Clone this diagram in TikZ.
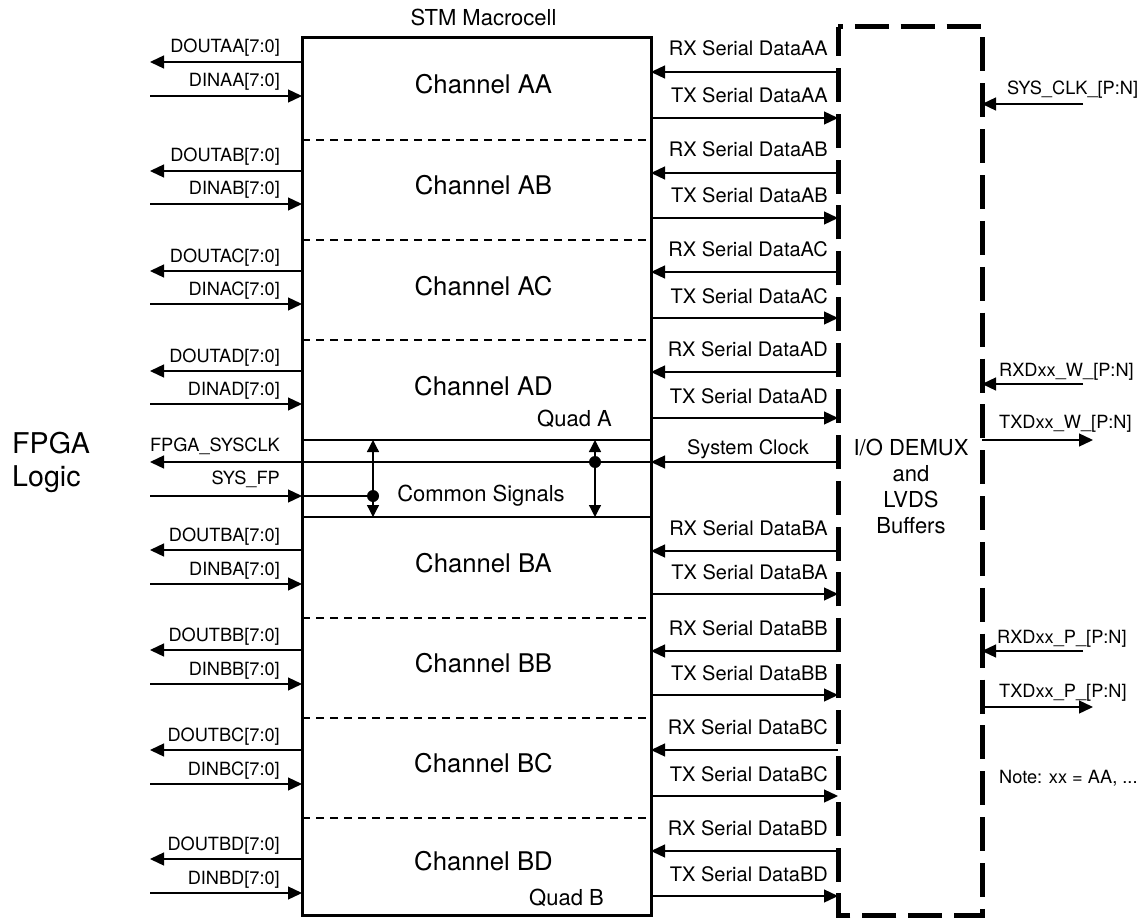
\documentclass[tikz,border=0pt]{standalone}
\usepackage{fontspec}
\setmainfont{TeX Gyre Heros}
\usetikzlibrary{arrows.meta,calc}
\tikzset{
  wire/.style={line width=1.3pt},
  sig/.style={line width=1.3pt, -{Triangle[length=14pt,width=13pt]}},
  sigboth/.style={line width=1.3pt, {Triangle[length=12pt,width=12pt]}-{Triangle[length=12pt,width=12pt]}},
  sepline/.style={line width=1.3pt, dash pattern=on 8pt off 6pt},
  quadline/.style={line width=2pt},
  iobox/.style={line width=5pt, dash pattern=on 34pt off 11.8667pt, dash phase=29pt, line join=miter},
  lbl/.style={inner sep=0pt, font=\fontsize{18.2}{22}\selectfont},
  ser/.style={inner sep=0pt, font=\fontsize{20}{24}\selectfont},
  mid/.style={inner sep=0pt, font=\fontsize{22}{26}\selectfont},
  chan/.style={inner sep=0pt, font=\fontsize{25.7}{30}\selectfont},
  big/.style={inner sep=0pt, font=\fontsize{28.6}{33}\selectfont},
}
\begin{document}
\begin{tikzpicture}[x=1pt,y=-1pt]
\useasboundingbox (0,0) rectangle (1143,920);

% main STM box
\node[draw, line width=3pt, inner sep=0pt, outer sep=0pt, minimum width=349pt, minimum height=877pt, anchor=north west] (stm) at (302,38) {};
% I/O box
\node[inner sep=0pt, outer sep=0pt, minimum width=144pt, minimum height=888pt, anchor=north west] (io) at (838,27) {};
\draw[iobox] (io.north west) -- (io.north east) -- (io.south east) -- (io.south west) -- cycle;

\node[mid, anchor=base] (stmtitle) at (483.5,26) {STM Macrocell};

% channel separators
\foreach \s/\yy in {s1/140, s2/240, s3/340, s5/618, s6/718, s7/818}{
  \coordinate (\s) at (0,\yy);
  \draw[sepline] (stm.west |- \s) -- (stm.east |- \s);
}
\coordinate (qa) at (0,440);
\coordinate (qb) at (0,517);
\draw[quadline] (stm.west |- qa) -- (stm.east |- qa);
\draw[quadline] (stm.west |- qb) -- (stm.east |- qb);

% channels
\foreach \n/\cy/\dout/\din/\rx/\tx in {AA/94/62/96/72/118, AB/195/171/204/173/218, AC/295/271/304/272/318, AD/395/371/404/372/418, BA/572/550/584/551/594, BB/672/650/684/651/695, BC/772/750/784/750/796, BD/870/859/893/851/896}{
  \node[chan, anchor=base] (ch\n) at (483.5,\cy) {Channel \n};
  \coordinate (dout\n) at (150,\dout);
  \coordinate (din\n) at (150,\din);
  \draw[sig] (stm.west |- dout\n) -- (dout\n);
  \draw[sig] (din\n) -- (stm.west |- din\n);
  \node[lbl, anchor=base east] (ldout\n) at (280,\dout-9) {DOUT\n[7:0]};
  \node[lbl, anchor=base east] (ldin\n) at (280,\din-9) {DIN\n[7:0]};
  \coordinate (rx\n) at (0,\rx);
  \coordinate (tx\n) at (0,\tx);
  \draw[sig] (io.west |- rx\n) -- (stm.east |- rx\n);
  \draw[sig] (stm.east |- tx\n) -- (io.west |- tx\n);
  \node[ser, anchor=base east] (lrx\n) at (828,\rx-16) {RX Serial Data\n};
  \node[ser, anchor=base east] (ltx\n) at (828,\tx-15) {TX Serial Data\n};
}

\node[mid, anchor=base east] (lquada) at (612,426) {Quad A};
\node[mid, anchor=base east] (lquadb) at (604,905) {Quad B};

% common signals
\coordinate (sc) at (0,462);
\coordinate (fpgaclk) at (150,462);
\coordinate (sysfp) at (150,496);
\coordinate (dotA) at (373,496);
\coordinate (dotB) at (595,462);
\draw[sig] (io.west |- sc) -- (stm.east |- sc);
\draw[sig] (stm.east |- sc) -- (fpgaclk);
\draw[sig] (sysfp) -- (stm.west |- sysfp);
\draw[wire] (stm.west |- sysfp) -- (dotA);
\draw[sigboth] (dotA |- qa) -- (dotA |- qb);
\draw[sigboth] (dotB |- qa) -- (dotB |- qb);
\fill (dotA) circle (6pt);
\fill (dotB) circle (6pt);
\node[lbl, anchor=base east] (lfpgaclk) at (280,451) {FPGA\_SYSCLK};
\node[lbl, anchor=base east] (lsysfp) at (280,484) {SYS\_FP};
\node[mid, anchor=base] (lcommon) at (481,501) {Common Signals};
\node[ser, anchor=base] (lsc) at (748,454) {System Clock};

% FPGA logic
\node[big, anchor=base west] (fpga1) at (12,453) {FPGA};
\node[big, anchor=base west] (fpga2) at (12,486) {Logic};

% I/O text
\node[mid, anchor=base] (io1) at (911,455) {I/O DEMUX};
\node[mid, anchor=base] (io2) at (911,481) {and};
\node[mid, anchor=base] (io3) at (911,507) {LVDS};
\node[mid, anchor=base] (io4) at (911,533) {Buffers};

% external pins
\coordinate (sysclk) at (1083,104);
\coordinate (rxw) at (1083,384);
\coordinate (txw) at (1093,440);
\coordinate (rxp) at (1083,651);
\coordinate (txp) at (1093,707);
\draw[sig] (sysclk) -- (io.east |- sysclk);
\draw[sig] (rxw) -- (io.east |- rxw);
\draw[sig] (io.east |- txw) -- (txw);
\draw[sig] (rxp) -- (io.east |- rxp);
\draw[sig] (io.east |- txp) -- (txp);
\node[lbl, anchor=base west] (lsysclk) at (1007,95) {SYS\_CLK\_[P:N]};
\node[lbl, anchor=base west] (lrxw) at (999,376) {RXDxx\_W\_[P:N]};
\node[lbl, anchor=base west] (ltxw) at (999,428) {TXDxx\_W\_[P:N]};
\node[lbl, anchor=base west] (lrxp) at (997,643) {RXDxx\_P\_[P:N]};
\node[lbl, anchor=base west] (ltxp) at (999,697) {TXDxx\_P\_[P:N]};
\node[lbl, anchor=base west] (lnote) at (999,783) {Note: xx = AA, ...};
\end{tikzpicture}
\end{document}
